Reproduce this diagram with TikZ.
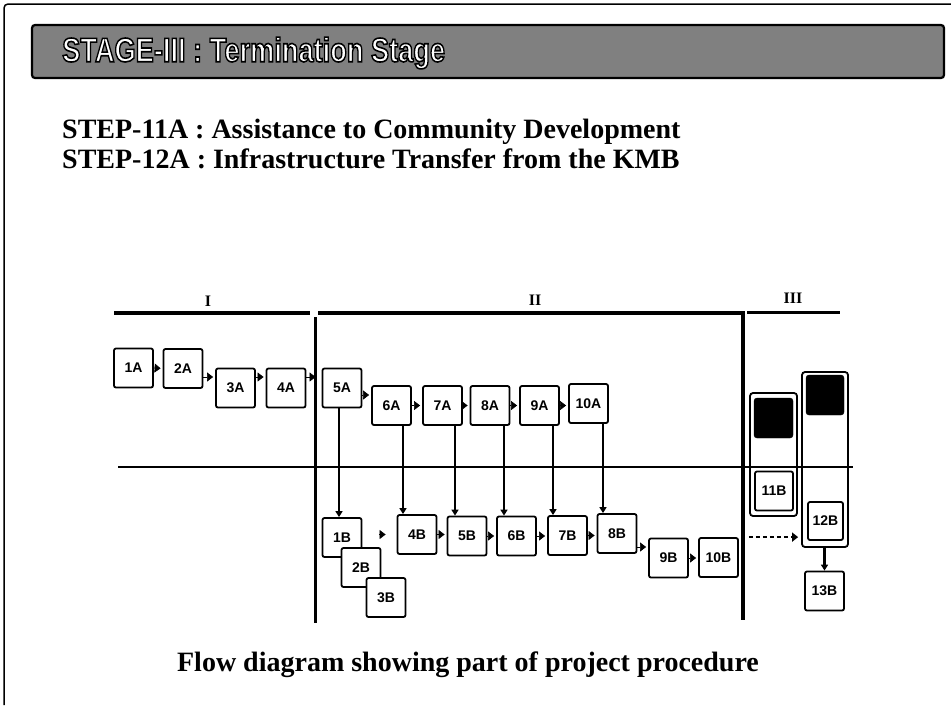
\documentclass[tikz,border=0pt]{standalone}
\usepackage{fontspec}
\setmainfont{Liberation Serif}
\newfontfamily\boxfont{Liberation Sans}
\usetikzlibrary{arrows.meta}
\newcommand{\outlinetext}[1]{\special{pdf:literal direct 2 Tr 1.6 w 0 G}#1\special{pdf:literal direct 0 Tr}}
\begin{document}
\begin{tikzpicture}[x=1pt,y=-1pt,
  stepbox/.style={draw, line width=1.8pt, rounded corners=2pt, fill=white,
    minimum width=39pt, minimum height=39pt, inner sep=0pt,
    font=\boxfont\bfseries\fontsize{14}{14}\selectfont},
  blacksq/.style={draw, fill=black, rounded corners=3pt, minimum width=39pt,
    minimum height=40pt, inner sep=0pt},
  groupbox/.style={draw, line width=1.8pt, rounded corners=3pt, inner sep=0pt},
  tri/.style={line width=0.6pt, -{Triangle[length=6pt,width=9pt]}, shorten >=2pt},
  vline/.style={line width=2.2pt, -{Triangle[length=6pt,width=7pt]}},
  phase/.style={font=\bfseries\fontsize{16}{16}\selectfont},
  steptext/.style={anchor=base west, inner sep=0pt, font=\bfseries\fontsize{28}{28}\selectfont}
]
\useasboundingbox (0,0) rectangle (951,705);
% page border
\draw[line width=1.5pt, rounded corners=4pt] (4,705) -- (4,4) -- (951,4);
% banner
\node[draw=black, line width=2.2pt, fill=black!50, rounded corners=3pt,
  minimum width=912pt, minimum height=53pt, inner sep=0pt] (banner) at (488,51.5) {};
\node[anchor=west, text=white, inner sep=0pt,
  font=\boxfont\bfseries\fontsize{34}{34}\selectfont] (title) at (62,53)
  {\scalebox{0.8}[1]{\outlinetext{STAGE-III : Termination Stage}}};
% step lines
\node[steptext] (s11) at (62,138) {STEP-11A : Assistance to Community Development};
\node[steptext] (s12) at (62,168) {STEP-12A : Infrastructure Transfer from the KMB};
% phase bars
\node[phase] (pI) at (208,301) {I};
\node[phase] (pII) at (535,300) {II};
\node[phase] (pIII) at (793,298) {III};
\draw[line width=3.5pt] (114,313) -- (310,313);
\draw[line width=3.5pt] (318,313) -- (743,313) -- (743,620);
\draw[line width=3pt] (747,312) -- (840,312);
\draw[line width=3pt] (315,317) -- (315,623);
\draw[line width=1.2pt] (118,467) -- (853,467);
% A row
\node[stepbox] (1A) at (133.5,368) {1A};
\node[stepbox] (2A) at (183,368.5) {2A};
\node[stepbox] (3A) at (235.5,388) {3A};
\node[stepbox] (4A) at (286,388) {4A};
\node[stepbox] (5A) at (342,388) {5A};
\node[stepbox] (6A) at (391.5,405.5) {6A};
\node[stepbox] (7A) at (442.5,405.5) {7A};
\node[stepbox] (8A) at (490,405.5) {8A};
\node[stepbox] (9A) at (539.5,405.5) {9A};
\node[stepbox] (10A) at (588.5,403.5) {10A};
% B row
\node[stepbox] (1B) at (342,537.5) {1B};
\node[stepbox] (2B) at (361,567.5) {2B};
\node[stepbox] (3B) at (386,597.5) {3B};
\node[stepbox] (4B) at (417,534.5) {4B};
\node[stepbox] (5B) at (467,536) {5B};
\node[stepbox] (6B) at (516.5,536) {6B};
\node[stepbox] (7B) at (567.5,535.5) {7B};
\node[stepbox] (8B) at (617,533.5) {8B};
\node[stepbox] (9B) at (668.5,558) {9B};
\node[stepbox] (10B) at (718.5,557.5) {10B};
% stage III groups
\node[groupbox, minimum width=47pt, minimum height=123pt] (g11) at (773.5,454.5) {};
\node[blacksq] (sq11) at (773.5,418) {};
\node[stepbox, minimum width=38pt] (11B) at (774,491) {11B};
\node[groupbox, minimum width=46pt, minimum height=175pt] (g12) at (825,459.5) {};
\node[blacksq, minimum width=38pt] (sq12) at (825,395) {};
\node[stepbox, minimum width=35pt, minimum height=38pt] (12B) at (825.5,521) {12B};
\node[stepbox] (13B) at (824.5,591) {13B};
% A row arrows
\draw[tri] (1A.east) -- (2A.west);
\draw[tri] ([yshift=-8.5pt]2A.east) -- ([yshift=11pt]3A.west);
\draw[tri] ([yshift=11pt]3A.east) -- ([yshift=11pt]4A.west);
\draw[tri, shorten >=6pt] ([yshift=11pt]4A.east) -- ([yshift=11pt]5A.west);
\draw[tri] ([yshift=-7pt]5A.east) -- ([yshift=10.5pt]6A.west);
\draw[tri] (6A.east) -- (7A.west);
\draw[tri] (7A.east) -- (8A.west);
\draw[tri] (8A.east) -- (9A.west);
\draw[tri] (9A.east) -- (9A.east -| 10A.west);
% B row arrows
\draw[tri, shorten <=17pt, shorten >=11pt] (1B.east |- 4B.west) -- (4B.west);
\draw[tri] (4B.east) -- (4B.east -| 5B.west);
\draw[tri] (5B.east) -- (6B.west);
\draw[tri] (6B.east) -- (6B.east -| 7B.west);
\draw[tri] (7B.east) -- (7B.east -| 8B.west);
\draw[tri] ([yshift=-13.5pt]8B.east) -- ([yshift=11pt]9B.west);
\draw[tri] (9B.east) -- (9B.east -| 10B.west);
% vertical arrows
\coordinate (v5) at ([xshift=-3pt]5A.south);
\coordinate (v6) at ([xshift=11.5pt]6A.south);
\coordinate (v7) at ([xshift=12.5pt]7A.south);
\coordinate (v8) at ([xshift=14pt]8A.south);
\coordinate (v9) at ([xshift=13.5pt]9A.south);
\coordinate (v10) at ([xshift=14.5pt]10A.south);
\draw[vline] (v5) -- (v5 |- 1B.north);
\draw[vline] (v6) -- (v6 |- 4B.north);
\draw[vline] (v7) -- (v7 |- 5B.north);
\draw[vline] (v8) -- (v8 |- 6B.north);
\draw[vline] (v9) -- (v9 |- 7B.north);
\draw[vline] (v10) -- (v10 |- 8B.north);
% stage III arrows
\draw[line width=2pt, dash pattern=on 4pt off 3pt, -{Triangle[length=6pt,width=9pt]},
  shorten <=10pt, shorten >=3pt] (10B.north east) -- (10B.north east -| g12.west);
\draw[vline] (g12.south -| 13B.north) -- (13B.north);
% caption
\node[font=\bfseries\fontsize{28}{28}\selectfont] (cap) at (468,665)
  {Flow diagram showing part of project procedure};
\end{tikzpicture}
\end{document}
